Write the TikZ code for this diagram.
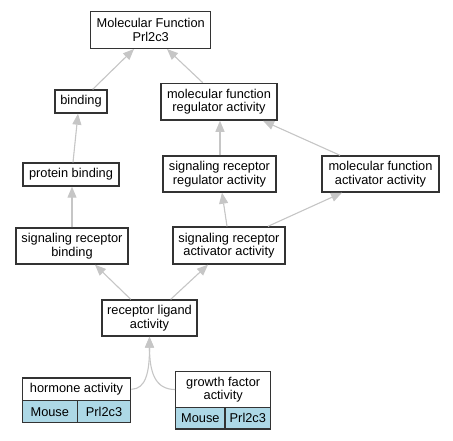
\documentclass[tikz,border=0pt]{standalone}
\usepackage{fontspec}
\setmainfont{Liberation Sans}
\usetikzlibrary{arrows.meta}
\begin{document}
\begin{tikzpicture}[x=1pt,y=-1pt,
  box/.style={rectangle, draw=black!80, line width=1.4pt, fill=white, align=center, inner sep=0pt,
    font=\fontsize{12.8}{13.5}\selectfont},
  cell/.style={box, fill={rgb,255:red,173;green,216;blue,230}},
  edge/.style={draw=gray!45, line width=1.1pt, -{Triangle[length=11pt,width=9pt]}, fill=gray!45}]
\useasboundingbox (0,0) rectangle (453,440);
\node[box, minimum width=120pt, minimum height=36.6pt] (mf) at (150.7,30) {Molecular Function\\Prl2c3};
\node[box, minimum width=52pt, minimum height=23pt] (bind) at (81,101.5) {binding};
\node[box, minimum width=116pt, minimum height=36.7pt] (mfra) at (219,101.7) {molecular function\\regulator activity};
\node[box, minimum width=96pt, minimum height=23pt] (pb) at (71,174.5) {protein binding};
\node[box, minimum width=113pt, minimum height=36pt] (srra) at (219.5,174) {signaling receptor\\regulator activity};
\node[box, minimum width=117pt, minimum height=36pt] (mfaa) at (380.5,174) {molecular function\\activator activity};
\node[box, minimum width=112pt, minimum height=36pt] (srb) at (72,246) {signaling receptor\\binding};
\node[box, minimum width=112pt, minimum height=37pt] (srac) at (229,245.5) {signaling receptor\\activator activity};
\node[box, minimum width=95pt, minimum height=36pt] (rla) at (149.5,318) {receptor ligand\\activity};
% hormone activity table
\node[box, minimum width=108.4pt, minimum height=22.7pt] (ha) at (76.5,389.3) {hormone activity};
\node[cell, minimum width=55pt, minimum height=22pt] (ham) at (49.8,411.7) {Mouse};
\node[cell, minimum width=53.4pt, minimum height=22pt] (hap) at (104,411.7) {Prl2c3};
% growth factor activity table
\node[box, minimum width=95pt, minimum height=35.6pt] (gf) at (223.2,389.5) {growth factor\\activity};
\node[cell, minimum width=49.3pt, minimum height=21.7pt] (gfm) at (200.35,418.15) {Mouse};
\node[cell, minimum width=45.7pt, minimum height=21.7pt] (gfp) at (247.85,418.15) {Prl2c3};
% edges
\draw[edge] ([xshift=11.7pt]bind.north) -- ([xshift=-16.7pt]mf.south);
\draw[edge] ([xshift=-16.3pt]mfra.north) -- ([xshift=16.3pt]mf.south);
\draw[edge] ([xshift=2pt]pb.north) -- ([xshift=-3pt]bind.south);
\draw[edge] ([xshift=0.5pt]srra.north) -- ([xshift=1pt]mfra.south);
\draw[edge] ([xshift=-40.5pt]mfaa.north) -- ([xshift=44pt]mfra.south);
\draw[edge] (srb.north) -- ([xshift=1pt]pb.south);
\draw[edge] ([xshift=-2pt]srac.north) -- ([xshift=2.5pt]srra.south);
\draw[edge] ([xshift=39pt]srac.north) -- ([xshift=-38.5pt]mfaa.south);
\draw[edge] ([xshift=-18.8pt]rla.north) -- ([xshift=23pt]srb.south);
\draw[edge] ([xshift=21.2pt]rla.north) -- ([xshift=-21pt]srac.south);
\draw[edge, fill=none] (ha.east) .. controls (146,389) and (149.5,372) .. (rla.south);
\draw[edge, fill=none] (gf.west) .. controls (155,389.5) and (149.5,372) .. (rla.south);
\end{tikzpicture}
\end{document}
